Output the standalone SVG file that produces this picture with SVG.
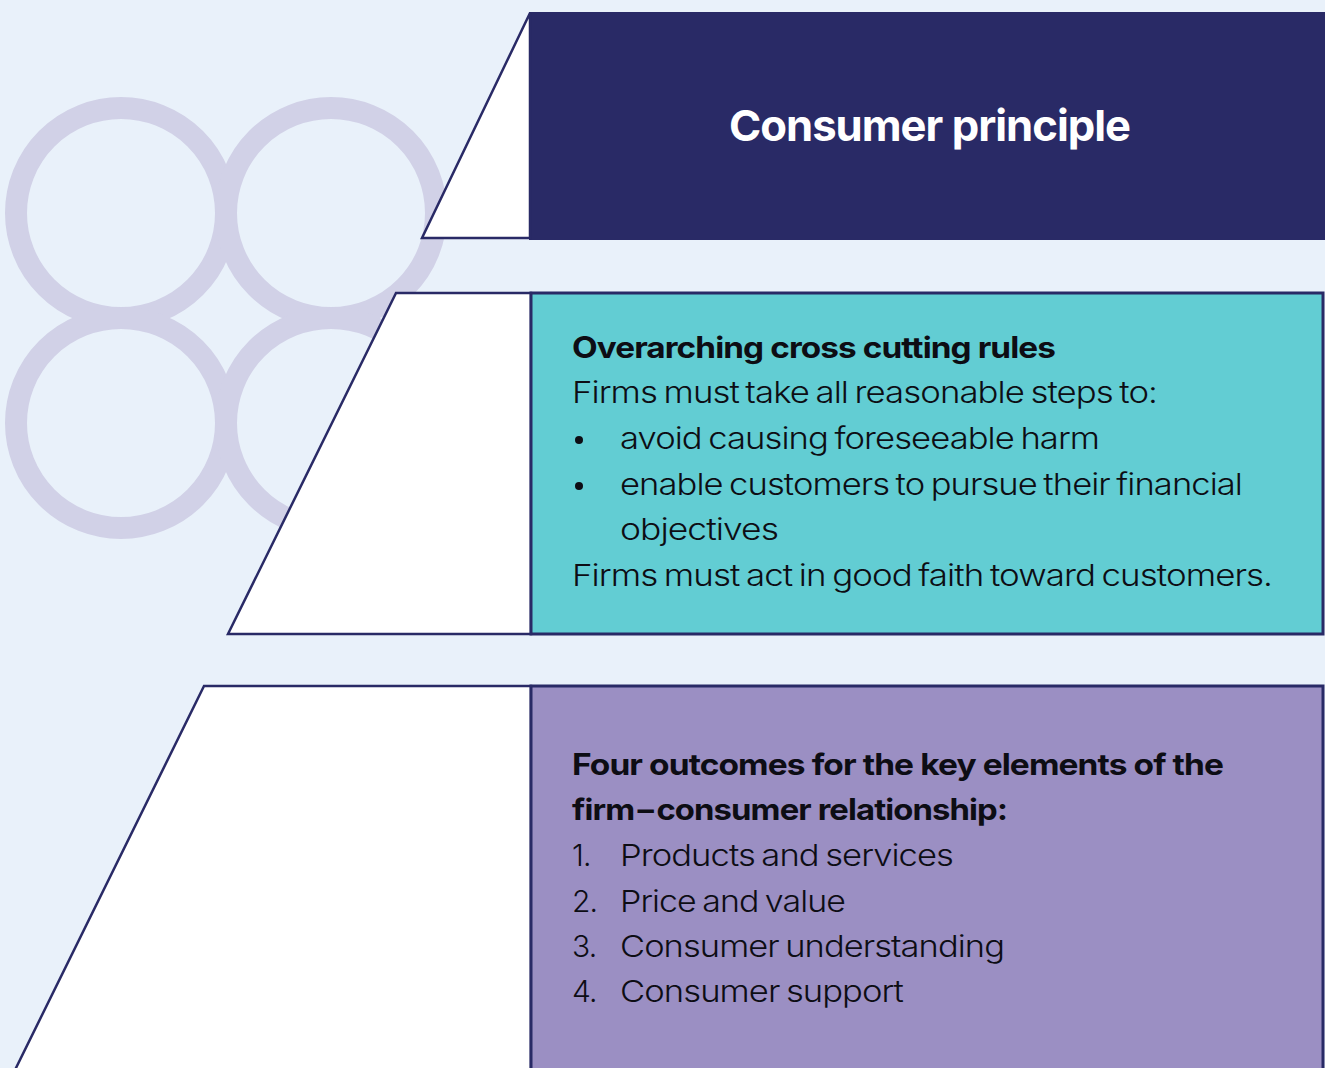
<svg xmlns="http://www.w3.org/2000/svg" width="1325" height="1068" viewBox="0 0 1325 1068">
  <defs>
    <style>
      .bg { fill: #e9f1fa; }
      .ring { fill: none; stroke: #d1d1e7; stroke-width: 22; }
      .wedge { fill: #ffffff; stroke: #292a66; stroke-width: 2.5; stroke-linejoin: miter; }
      .panel-dark { fill: #292a66; }
      .panel-teal { fill: #62cdd3; stroke: #292a66; stroke-width: 3; }
      .panel-purple { fill: #9b8fc3; stroke: #292a66; stroke-width: 3; }
      .title { font-family: Inter, "Liberation Sans", sans-serif; font-weight: 700; font-size: 43px; letter-spacing: -1px; fill: #ffffff; }
      .head { font-family: Inter, "Liberation Sans", sans-serif; font-weight: 700; font-size: 29.5px; letter-spacing: -0.8px; fill: #0d0d14; }
      .body { font-family: Inter, "Liberation Sans", sans-serif; font-weight: 300; font-size: 30px; letter-spacing: -0.8px; word-spacing: -2px; fill: #0d0d14; }
    </style>
  </defs>

  <!-- page background -->
  <rect class="bg" x="0" y="0" width="1325" height="1068"/>

  <!-- decorative ring motif -->
  <g id="rings">
    <circle class="ring" cx="121" cy="213" r="105"/>
    <circle class="ring" cx="331" cy="213" r="105"/>
    <circle class="ring" cx="121" cy="423" r="105"/>
    <circle class="ring" cx="331" cy="423" r="105"/>
  </g>

  <!-- tier 1: consumer principle -->
  <g id="tier-principle">
    <rect class="panel-dark" x="529" y="12" width="796" height="228"/>
    <polygon class="wedge" points="530,13 422,238 530,238"/>
    <text class="title" x="729" y="141" textLength="401" lengthAdjust="spacingAndGlyphs">Consumer principle</text>
  </g>

  <!-- tier 2: cross cutting rules -->
  <g id="tier-rules">
    <polygon class="wedge" points="396,293 228,634 531,634 531,293"/>
    <rect class="panel-teal" x="531" y="293" width="792" height="341"/>
    <text class="head" x="572" y="358" textLength="483" lengthAdjust="spacingAndGlyphs">Overarching cross cutting rules</text>
    <text class="body" x="572" y="403" textLength="585" lengthAdjust="spacingAndGlyphs">Firms must take all reasonable steps to:</text>
    <circle cx="579" cy="440" r="4" fill="#0d0d14"/>
    <text class="body" x="620" y="449" textLength="479" lengthAdjust="spacingAndGlyphs">avoid causing foreseeable harm</text>
    <circle cx="579" cy="486" r="4" fill="#0d0d14"/>
    <text class="body" x="620" y="495" textLength="622" lengthAdjust="spacingAndGlyphs">enable customers to pursue their financial</text>
    <text class="body" x="620" y="540" textLength="158" lengthAdjust="spacingAndGlyphs">objectives</text>
    <text class="body" x="572" y="586" textLength="700" lengthAdjust="spacingAndGlyphs">Firms must act in good faith toward customers.</text>
  </g>

  <!-- tier 3: four outcomes -->
  <g id="tier-outcomes">
    <polygon class="wedge" points="204,686 14,1072 531,1072 531,686"/>
    <rect class="panel-purple" x="531" y="686" width="792" height="390"/>
    <text class="head" x="572" y="775" textLength="651" lengthAdjust="spacingAndGlyphs">Four outcomes for the key elements of the</text>
    <text class="head" x="572" y="820" textLength="435" lengthAdjust="spacingAndGlyphs">firm<tspan dx="3">–</tspan><tspan dx="3">consumer relationship:</tspan></text>
    <text class="body" x="572" y="866">1.</text>
    <text class="body" x="620" y="866" textLength="333" lengthAdjust="spacingAndGlyphs">Products and services</text>
    <text class="body" x="572" y="912">2.</text>
    <text class="body" x="620" y="912" textLength="225" lengthAdjust="spacingAndGlyphs">Price and value</text>
    <text class="body" x="572" y="957">3.</text>
    <text class="body" x="620" y="957" textLength="384" lengthAdjust="spacingAndGlyphs">Consumer understanding</text>
    <text class="body" x="572" y="1002">4.</text>
    <text class="body" x="620" y="1002" textLength="283" lengthAdjust="spacingAndGlyphs">Consumer support</text>
  </g>

  <!-- no connectors in this layout -->
  <g id="connectors"/>
</svg>
